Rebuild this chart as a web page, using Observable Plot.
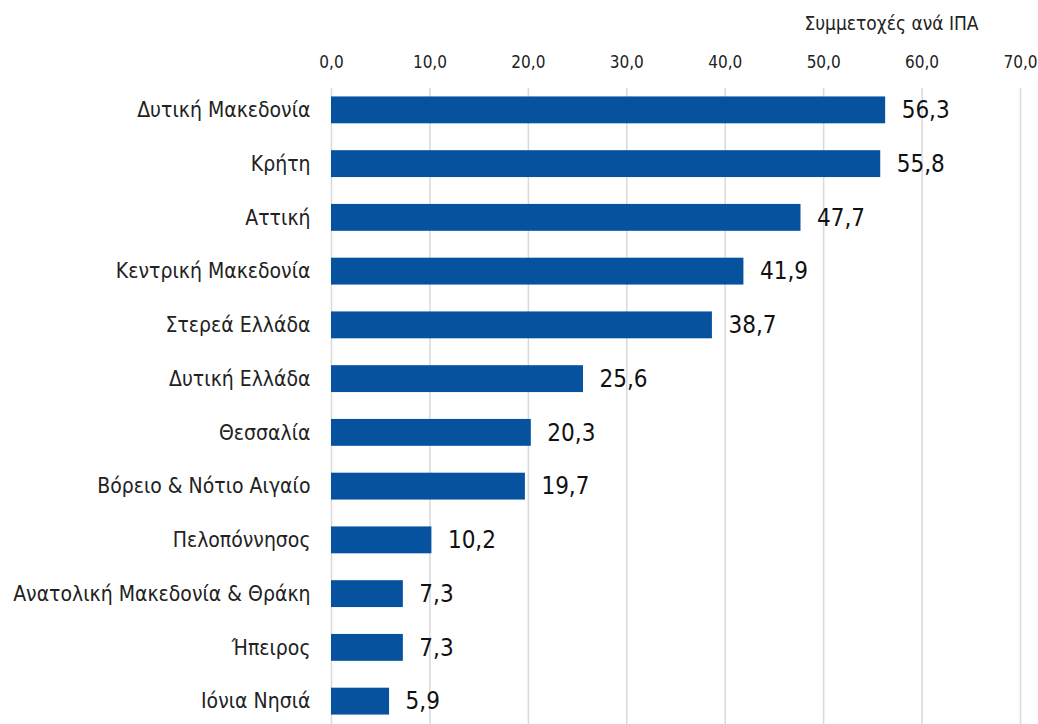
<!DOCTYPE html>
<html>
<head>
<meta charset="utf-8">
<script src="https://cdn.jsdelivr.net/npm/d3@7"></script>
<script src="https://cdn.jsdelivr.net/npm/@observablehq/plot@0.6"></script>
<style>
  html, body { margin: 0; padding: 0; background: #fff; }
</style>
</head>
<body>
<div id="chart"></div>
<script>
const regions = [
  "Δυτική Μακεδονία",
  "Κρήτη",
  "Αττική",
  "Κεντρική Μακεδονία",
  "Στερεά Ελλάδα",
  "Δυτική Ελλάδα",
  "Θεσσαλία",
  "Βόρειο & Νότιο Αιγαίο",
  "Πελοπόννησος",
  "Ανατολική Μακεδονία & Θράκη",
  "Ήπειρος",
  "Ιόνια Νησιά"
];
const values = [56.3, 55.8, 47.7, 41.9, 38.7, 25.6, 20.3, 19.7, 10.2, 7.3, 7.3, 5.9];
const xTicks = [0, 10, 20, 30, 40, 50, 60, 70];
const axisTitle = "Συμμετοχές ανά ΙΠΑ";

const data = regions.map((r, i) => ({region: r, value: values[i]}));
const fmt = d => d.toFixed(1).replace(".", ",");
const font = "'Liberation Sans Narrow', 'DejaVu Sans Condensed', 'Roboto', sans-serif";

const chart = Plot.plot({
  width: 1038,
  height: 724,
  marginLeft: 331,
  marginRight: 18,
  marginTop: 88,
  marginBottom: 0,
  style: {fontFamily: font, background: "#fff", color: "#222"},
  x: {domain: [0, 70]},
  y: {domain: regions, range: [83, 728], paddingInner: 0.5, paddingOuter: 0.25, round: false},
  marks: [
    Plot.gridX(xTicks, {stroke: "#d9d9d9", strokeOpacity: 1, strokeWidth: 1.5}),
    Plot.barX(data, {x: "value", y: "region", fill: "#07529f"}),
    Plot.text(data, {x: "value", y: "region", text: d => fmt(d.value), textAnchor: "start", dx: 16, fontSize: 24, fill: "#111"}),
    Plot.axisX({anchor: "top", ticks: xTicks, tickFormat: fmt, tickSize: 0, tickPadding: 21, fontSize: 17, label: null}),
    Plot.axisY({tickSize: 0, tickPadding: 21, fontSize: 21, label: null}),
    Plot.text([axisTitle], {frameAnchor: "top-right", dx: -42, dy: -72, fontSize: 19, fill: "#222"})
  ]
});
document.getElementById("chart").appendChild(chart);
</script>
</body>
</html>
